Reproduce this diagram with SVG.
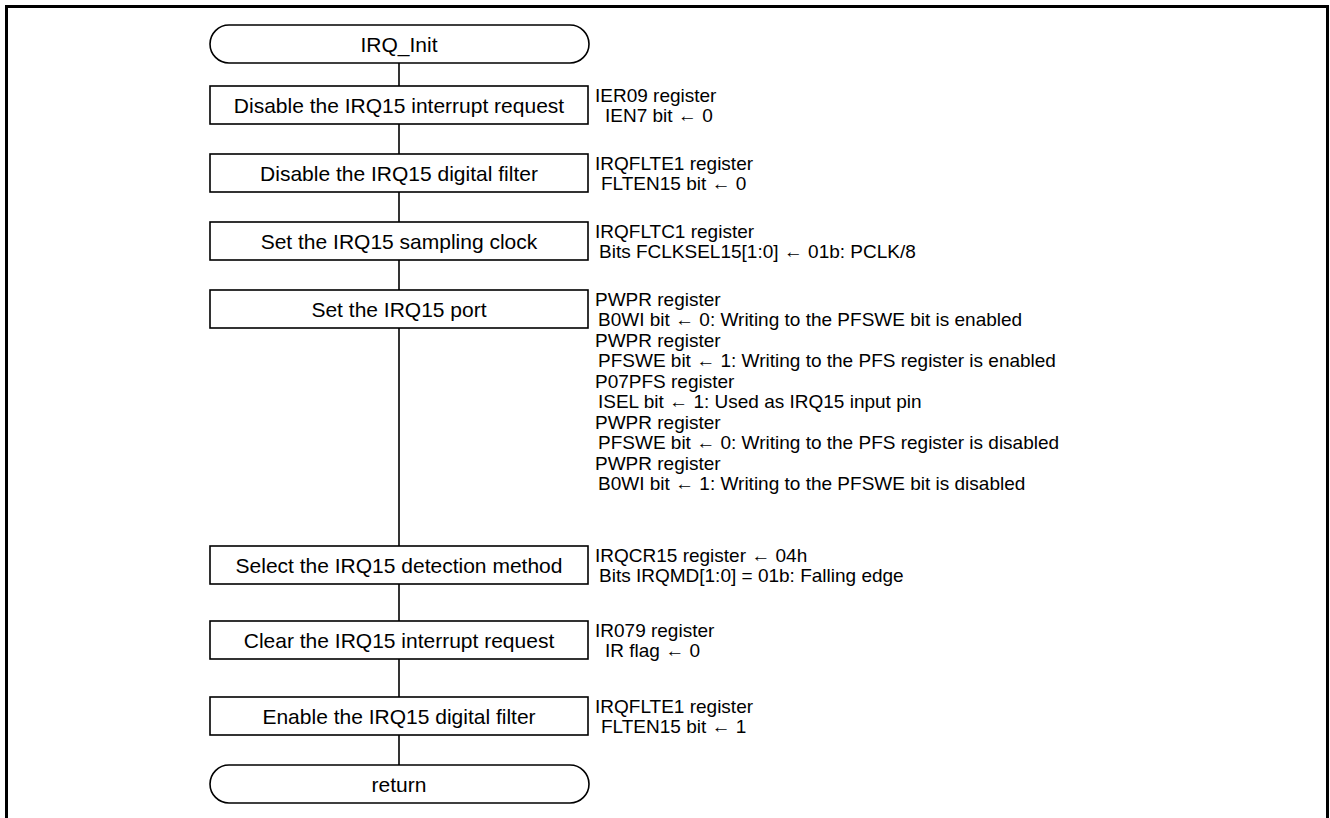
<svg xmlns="http://www.w3.org/2000/svg" width="1330" height="818" viewBox="0 0 1330 818">
<style>
.frame{fill:none;stroke:#000;stroke-width:3}
.node{fill:#fff;stroke:#000;stroke-width:1.6}
.conn{fill:none;stroke:#000;stroke-width:1.6}
.t{font-family:"Liberation Sans",Arial,sans-serif;font-size:21px;fill:#000}
.a{font-family:"Liberation Sans",Arial,sans-serif;font-size:19px;fill:#000}
.c{text-anchor:middle}
</style>
<rect width="1330" height="818" fill="#fff"/>
<path class="frame" d="M6.5,818 V6.5 H1327.5 V818"/>
<g id="connectors">
<line class="conn" x1="399" y1="63" x2="399" y2="86"/>
<line class="conn" x1="399" y1="124" x2="399" y2="154"/>
<line class="conn" x1="399" y1="192" x2="399" y2="222"/>
<line class="conn" x1="399" y1="260" x2="399" y2="290"/>
<line class="conn" x1="399" y1="328" x2="399" y2="546"/>
<line class="conn" x1="399" y1="584" x2="399" y2="621"/>
<line class="conn" x1="399" y1="659" x2="399" y2="697"/>
<line class="conn" x1="399" y1="735" x2="399" y2="765"/>
</g>
<g id="start">
<rect class="node" x="210" y="25" width="379" height="38" rx="19" ry="19"/>
<text class="t c" x="399" y="51.5">IRQ_Init</text>
</g>
<g id="step1">
<rect class="node" x="210" y="86" width="378" height="38"/>
<text class="t c" x="399" y="112.5">Disable the IRQ15 interrupt request</text>
<text class="a" x="595" y="101.5">IER09 register</text>
<text class="a" x="605" y="122">IEN7 bit ← 0</text>
</g>
<g id="step2">
<rect class="node" x="210" y="154" width="378" height="38"/>
<text class="t c" x="399" y="180.5">Disable the IRQ15 digital filter</text>
<text class="a" x="595" y="169.5">IRQFLTE1 register</text>
<text class="a" x="601" y="190">FLTEN15 bit ← 0</text>
</g>
<g id="step3">
<rect class="node" x="210" y="222" width="378" height="38"/>
<text class="t c" x="399" y="248.5">Set the IRQ15 sampling clock</text>
<text class="a" x="595" y="237.5">IRQFLTC1 register</text>
<text class="a" x="599" y="258">Bits FCLKSEL15[1:0] ← 01b: PCLK/8</text>
</g>
<g id="step4">
<rect class="node" x="210" y="290" width="378" height="38"/>
<text class="t c" x="399" y="316.5">Set the IRQ15 port</text>
<text class="a" x="595" y="305.5">PWPR register</text>
<text class="a" x="598" y="326">B0WI bit ← 0: Writing to the PFSWE bit is enabled</text>
<text class="a" x="595" y="346.5">PWPR register</text>
<text class="a" x="598" y="367">PFSWE bit ← 1: Writing to the PFS register is enabled</text>
<text class="a" x="595" y="387.5">P07PFS register</text>
<text class="a" x="598" y="408">ISEL bit ← 1: Used as IRQ15 input pin</text>
<text class="a" x="595" y="428.5">PWPR register</text>
<text class="a" x="598" y="449">PFSWE bit ← 0: Writing to the PFS register is disabled</text>
<text class="a" x="595" y="469.5">PWPR register</text>
<text class="a" x="598" y="490">B0WI bit ← 1: Writing to the PFSWE bit is disabled</text>
</g>
<g id="step5">
<rect class="node" x="210" y="546" width="378" height="38"/>
<text class="t c" x="399" y="572.5">Select the IRQ15 detection method</text>
<text class="a" x="595" y="561.5">IRQCR15 register ← 04h</text>
<text class="a" x="599" y="582">Bits IRQMD[1:0] = 01b: Falling edge</text>
</g>
<g id="step6">
<rect class="node" x="210" y="621" width="378" height="38"/>
<text class="t c" x="399" y="647.5">Clear the IRQ15 interrupt request</text>
<text class="a" x="595" y="636.5">IR079 register</text>
<text class="a" x="605" y="657">IR flag ← 0</text>
</g>
<g id="step7">
<rect class="node" x="210" y="697" width="378" height="38"/>
<text class="t c" x="399" y="723.5">Enable the IRQ15 digital filter</text>
<text class="a" x="595" y="712.5">IRQFLTE1 register</text>
<text class="a" x="601" y="733">FLTEN15 bit ← 1</text>
</g>
<g id="end">
<rect class="node" x="210" y="765" width="379" height="38" rx="19" ry="19"/>
<text class="t c" x="399" y="791.5">return</text>
</g>
</svg>
